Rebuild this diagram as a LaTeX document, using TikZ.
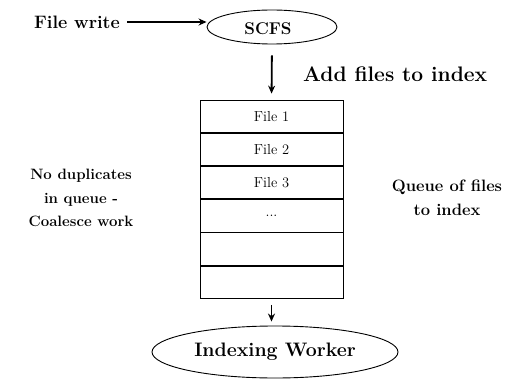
\documentclass[tikz,border=0pt]{standalone}
\usetikzlibrary{shapes.geometric,arrows.meta,positioning}
\begin{document}
\begin{tikzpicture}[x=1pt,y=-1pt,
  lbl/.style={font=\fontsize{15}{23.5}\selectfont\bfseries, align=center, inner sep=0pt},
  oval/.style={draw, ellipse, line width=0.9pt, inner sep=0pt},
  cell/.style={draw, line width=0.9pt, minimum width=143pt, minimum height=32.3pt, inner sep=0pt, font=\fontsize{14.5}{16}\selectfont},
  arr/.style={-{Stealth[length=8pt,width=7pt]}, line width=1.8pt}]
\useasboundingbox (0,0) rectangle (524,382);
\node[oval, minimum width=130pt, minimum height=34pt] (scfs) at (272,27) {};
\node[lbl, font=\fontsize{17}{19}\selectfont\bfseries] at (268,29) {SCFS};
\node[lbl, anchor=west, font=\fontsize{18}{20}\selectfont\bfseries] (fw) at (34,22) {File write};
\draw[arr, shorten <=7pt] (fw.east) -- (scfs.west |- fw.east);
\node[cell] (r1) at (271.5,116.2) {File 1};
\node[cell, below=0pt of r1] (r2) {File 2};
\node[cell, below=0pt of r2] (r3) {File 3};
\node[cell, below=0pt of r3] (r4) {...};
\node[cell, below=0pt of r4] (r5) {};
\node[cell, below=0pt of r5] (r6) {};
\draw[arr, shorten <=11pt, shorten >=6pt] (scfs.south) -- (r1.north);
\node[lbl, anchor=west, font=\fontsize{21}{23}\selectfont\bfseries] (add) at (303,74) {Add files to index};
\node[oval, minimum width=246pt, minimum height=52pt] (iw) at (275,352) {};
\node[lbl, font=\fontsize{19.5}{22}\selectfont\bfseries] at (iw) {Indexing Worker};
\draw[arr, shorten <=6pt, shorten >=4pt] (r6.south) -- (r6.south |- iw.north);
\node[lbl, font=\fontsize{15}{23.5}\selectfont\bfseries] (nd) at (81,198) {No duplicates\\in queue -\\Coalesce work};
\node[lbl, font=\fontsize{16.5}{23.5}\selectfont\bfseries] (qf) at (447,198) {Queue of files\\to index};
\end{tikzpicture}
\end{document}
